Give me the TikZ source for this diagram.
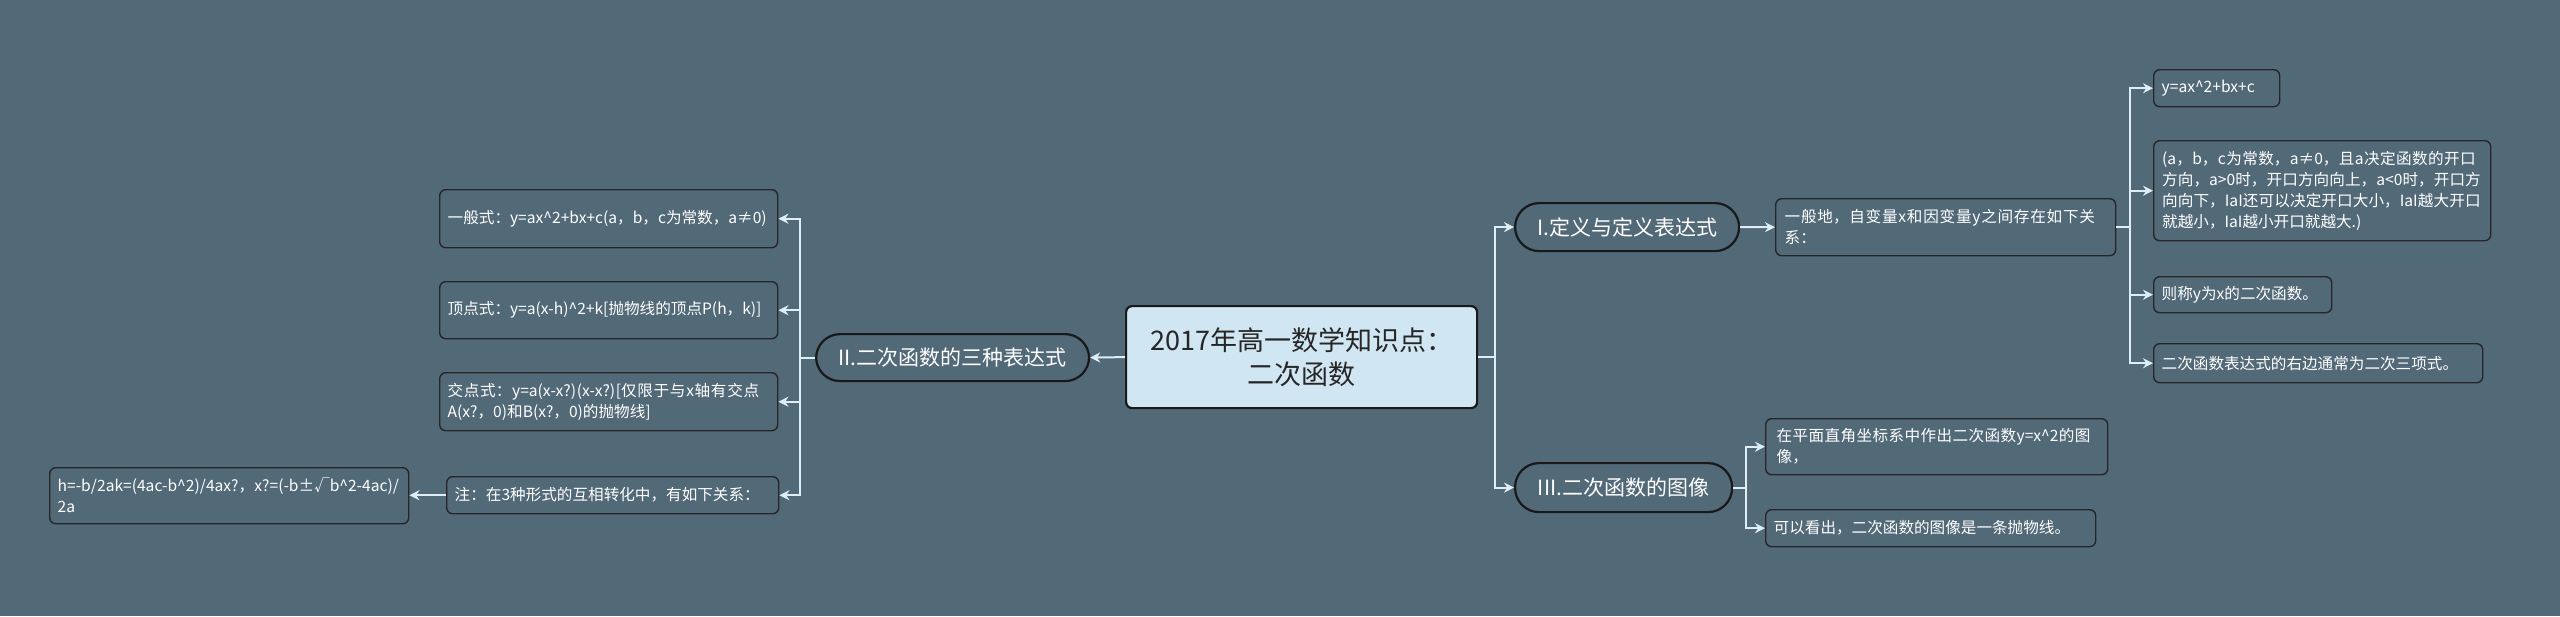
\documentclass[tikz,border=0pt]{standalone}
\usepackage{fontspec}
\setmainfont{Noto Sans CJK SC}
\XeTeXlinebreaklocale "zh"
\XeTeXlinebreakskip=0pt plus 1pt
\usetikzlibrary{arrows.meta}
\definecolor{bg}{HTML}{526978}
\definecolor{ln}{HTML}{DDEEF6}
\definecolor{rootc}{HTML}{D0E6F2}
\begin{document}
\begin{tikzpicture}[x=0.5pt,y=-0.5pt,
 leaf/.style={draw=black!85,line width=0.7pt,fill=bg,rounded corners=3pt,text=white,font=\fontsize{7.8}{10.5}\selectfont,align=left,inner sep=4pt,anchor=north west},
 pill/.style={draw=black!90,line width=1.1pt,fill=bg,rounded corners=12pt,text=white,font=\fontsize{10.5}{13}\selectfont,anchor=north west,inner sep=0pt},
 conn/.style={draw=ln,line width=1pt,-{Stealth[length=5pt,width=5pt]}},
 plain/.style={draw=ln,line width=1pt}]
\fill[bg] (0,0) rectangle (2560,616);
\useasboundingbox (0,0) rectangle (2560,616);
% root
\node[draw=black!90,line width=1.1pt,fill=rootc,rounded corners=3pt,anchor=north west,minimum width=351*0.5pt,minimum height=102*0.5pt,align=center,font=\fontsize{13.5}{17}\selectfont,text=black!85] (root) at (1125,305) {2017年高一数学知识点：\\二次函数};
\node[pill,minimum width=224*0.5pt,minimum height=48*0.5pt] (I) at (1514,202) {I.定义与定义表达式};
\node[pill,minimum width=217*0.5pt,minimum height=49*0.5pt] (III) at (1514,462) {III.二次函数的图像};
\node[pill,minimum width=273*0.5pt,minimum height=47*0.5pt] (II) at (815,333) {II.二次函数的三种表达式};
% right I
\node[leaf,minimum width=340*0.5pt,minimum height=57*0.5pt,text width=322*0.5pt] (g) at (1775,198) {一般地，自变量x和因变量y之间存在如下关系：};
\node[leaf,minimum width=125*0.5pt,minimum height=37*0.5pt,text width=110*0.5pt] (r1) at (2153,69) {y=ax\^{}2+bx+c};
\node[leaf,minimum width=337*0.5pt,minimum height=100*0.5pt,text width=320*0.5pt] (r2) at (2153,140) {(a，b，c为常数，a≠0，且a决定函数的开口方向，a>0时，开口方向向上，a<0时，开口方向向下，IaI还可以决定开口大小，IaI越大开口就越小，IaI越小开口就越大.)};
\node[leaf,minimum width=177*0.5pt,minimum height=36*0.5pt,text width=162*0.5pt] (r3) at (2153,276) {则称y为x的二次函数。};
\node[leaf,minimum width=328*0.5pt,minimum height=39*0.5pt,text width=313*0.5pt] (r4) at (2153,343) {二次函数表达式的右边通常为二次三项式。};
% III
\node[leaf,minimum width=342*0.5pt,minimum height=56*0.5pt,text width=320*0.5pt] (p1) at (1765,418) {在平面直角坐标系中作出二次函数y=x\^{}2的图像，};
\node[leaf,minimum width=329*0.5pt,minimum height=37*0.5pt,text width=314*0.5pt] (p2) at (1765,509) {可以看出，二次函数的图像是一条抛物线。};
% left
\node[leaf,minimum width=338*0.5pt,minimum height=58*0.5pt,text width=322*0.5pt] (l1) at (439,189) {一般式：y=ax\^{}2+bx+c(a，b，c为常数，a≠0)};
\node[leaf,minimum width=338*0.5pt,minimum height=57*0.5pt,text width=322*0.5pt] (l2) at (439,281) {顶点式：y=a(x-h)\^{}2+k[抛物线的顶点P(h，k)]};
\node[leaf,minimum width=338*0.5pt,minimum height=58*0.5pt,text width=322*0.5pt] (l3) at (439,372) {交点式：y=a(x-x?)(x-x?)[仅限于与x轴有交点A(x?，0)和B(x?，0)的抛物线]};
\node[leaf,minimum width=331*0.5pt,minimum height=37*0.5pt,text width=316*0.5pt] (l4) at (446,476) {注：在3种形式的互相转化中，有如下关系：};
\node[leaf,minimum width=359*0.5pt,minimum height=56*0.5pt,text width=343*0.5pt] (h) at (49,467) {h=-b/2ak=(4ac-b\^{}2)/4ax?，x?=(-b±√b\^{}2-4ac)/2a};
% connectors
\coordinate (t0) at (1495,0);
\draw[plain] (root.east) -- (root.east -| t0);
\draw[conn] (root.east -| t0) |- (I.west);
\draw[conn] (root.east -| t0) |- (III.west);
\draw[conn] (I.east) -- (g.west);
\coordinate (t1) at (2130,0);
\draw[plain] (g.east) -- (g.east -| t1);
\foreach \c in {r1,r2,r3,r4} \draw[conn] (g.east -| t1) |- (\c.west);
\coordinate (t2) at (1746,0);
\draw[plain] (III.east) -- (III.east -| t2);
\foreach \c in {p1,p2} \draw[conn] (III.east -| t2) |- (\c.west);
\draw[conn] (root.west) -- (II.east);
\coordinate (t3) at (800,0);
\draw[plain] (II.west) -- (II.west -| t3);
\foreach \c in {l1,l2,l3,l4} \draw[conn] (II.west -| t3) |- (\c.east);
\draw[conn] (l4.west) -- (h.east |- l4.west);
\end{tikzpicture}
\end{document}
